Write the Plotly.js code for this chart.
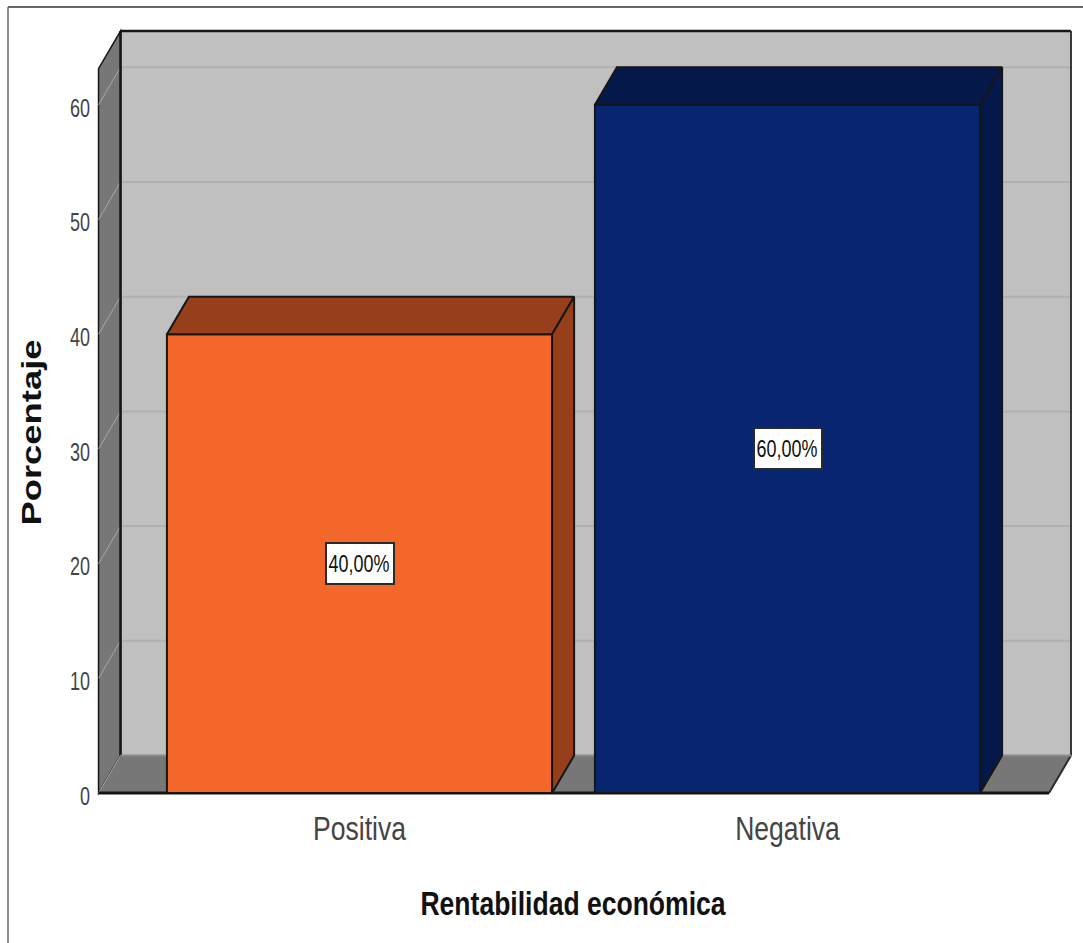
<!DOCTYPE html>
<html>
<head>
<meta charset="utf-8">
<script src="https://cdn.plot.ly/plotly-3.0.1.min.js"></script>
<style>html,body{margin:0;padding:0;background:#fff}</style>
</head>
<body>
<div id="chart" style="width:1083px;height:943px"></div>
<script>
// Share of firms by economic return, drawn as extruded columns
const categories = ['Positiva', 'Negativa'];
const percentages = [40, 60];
const faceColors = ['#f4672a', '#08266f'];
const shadeColors = ['#973f1a', '#05184a'];
const yTicks = [0, 10, 20, 30, 40, 50, 60];

// Room extents and the depth of the extrusion, in axis units
const xLeft = -0.6098, xRight = 1.6624, yTop = 66.43;
const xDepth = 0.0514, yDepth = 3.27;
const barWidth = 0.9;

const W = 1083, H = 943;
const polygon = pts => 'M' + pts.map(p => p.join(',')).join('L') + 'Z';
const edge = '#161616';
const sans = '"Liberation Sans", Arial, sans-serif';

const shapes = [
  // page frame
  {type: 'line', xref: 'paper', yref: 'paper', x0: 8 / W, x1: 1, y0: 1 - 7 / H, y1: 1 - 7 / H, line: {color: '#333', width: 1.5}},
  {type: 'line', xref: 'paper', yref: 'paper', x0: 8 / W, x1: 8 / W, y0: 0, y1: 1 - 7 / H, line: {color: '#666', width: 1.5}},
  // back wall
  {type: 'path', xref: 'x', yref: 'y', layer: 'below', fillcolor: '#c0c0c0', line: {width: 0},
   path: polygon([[xLeft + xDepth, yDepth], [xRight, yDepth], [xRight, yTop], [xLeft + xDepth, yTop]])},
  // side wall
  {type: 'path', xref: 'x', yref: 'y', layer: 'below', fillcolor: '#777777', line: {color: edge, width: 1.5},
   path: polygon([[xLeft, 0], [xLeft + xDepth, yDepth], [xLeft + xDepth, yTop], [xLeft, yTop - yDepth]])},
  // floor
  {type: 'path', xref: 'x', yref: 'y', layer: 'below', fillcolor: '#777777', line: {width: 0},
   path: polygon([[xLeft, 0], [xRight - xDepth, 0], [xRight, yDepth], [xLeft + xDepth, yDepth]])}
];

// Grid lines wrap from the side wall on to the back wall
yTicks.forEach(t => {
  if (t > 0) {
    shapes.push({type: 'line', xref: 'x', yref: 'y', layer: 'below', x0: xLeft + xDepth, x1: xRight,
      y0: t + yDepth, y1: t + yDepth, line: {color: '#b0b0b0', width: 2}});
  }
  shapes.push({type: 'line', xref: 'x', yref: 'y', layer: 'below', x0: xLeft, x1: xLeft + xDepth,
    y0: t, y1: t + yDepth, line: {color: '#a8a8a8', width: 1}});
});

// Outer edges of the room
[
  [xLeft + xDepth, yTop, xRight, yTop, edge, 2.5],
  [xLeft + xDepth, yDepth, xLeft + xDepth, yTop, edge, 2.5],
  [xRight, yDepth, xRight, yTop, '#3a3a3a', 2],
  [xRight - xDepth, 0, xRight, yDepth, '#2a2a2a', 2],
  [xLeft + xDepth, yDepth, xRight, yDepth, '#8c8c8c', 2],
  [xLeft, 0, xRight - xDepth, 0, edge, 3]
].forEach(([x0, y0, x1, y1, color, width]) => {
  shapes.push({type: 'line', xref: 'x', yref: 'y', layer: 'below', x0, y0, x1, y1, line: {color, width}});
});

const traces = [{
  type: 'bar', x: categories.map((_, i) => i), y: percentages, width: barWidth,
  marker: {color: faceColors, line: {color: edge, width: 2}},
  cliponaxis: false, hoverinfo: 'skip'
}];

// Top and side faces of each column, derived from its value
percentages.forEach((v, i) => {
  const l = i - barWidth / 2, r = i + barWidth / 2;
  const faces = [
    [[l, v], [r, v], [r + xDepth, v + yDepth], [l + xDepth, v + yDepth], [l, v]],
    [[r, 0], [r + xDepth, yDepth], [r + xDepth, v + yDepth], [r, v], [r, 0]]
  ];
  faces.forEach(f => traces.push({
    type: 'scatter', mode: 'lines', x: f.map(p => p[0]), y: f.map(p => p[1]),
    fill: 'toself', fillcolor: shadeColors[i], line: {color: edge, width: 2},
    cliponaxis: false, hoverinfo: 'skip'
  }));
});

const annotations = percentages.map((v, i) => ({
  x: i, y: v / 2, xref: 'x', yref: 'y', showarrow: false,
  text: v.toFixed(2).replace('.', ',') + '%',
  font: {family: sans, size: 23, color: '#111'},
  bgcolor: '#ffffff', bordercolor: '#2a2a2a', borderwidth: 2,
  width: 66, height: 39, align: 'center', valign: 'middle', borderpad: 0
}));

const layout = {
  width: W, height: H, showlegend: false,
  margin: {l: 0, r: 0, t: 0, b: 0},
  paper_bgcolor: '#ffffff', plot_bgcolor: 'rgba(0,0,0,0)',
  shapes, annotations,
  xaxis: {
    domain: [96 / W, 1074 / W], range: [-0.6157, 1.6694],
    tickmode: 'array', tickvals: categories.map((_, i) => i), ticktext: categories,
    ticks: '', showgrid: false, zeroline: false, showline: false, ticklabelstandoff: 8,
    tickfont: {family: sans, size: 34, color: '#444'},
    title: {text: 'Rentabilidad económica', standoff: 45,
      font: {family: sans, size: 34, color: '#111', weight: 'bold'}}
  },
  yaxis: {
    domain: [(H - 797) / H, (H - 28) / H], range: [-0.349, 66.7],
    tickmode: 'array', tickvals: yTicks,
    ticks: '', showgrid: false, zeroline: false, showline: false, ticklabelstandoff: 5, ticklabelshift: 3,
    tickfont: {family: sans, size: 25, color: '#444'},
    title: {text: 'Porcentaje', standoff: 12,
      font: {family: sans, size: 28, color: '#111', weight: 'bold'}}
  }
};

// Horizontal squeeze or stretch of the chart's lettering
function fit(node, scale, dx) {
  node.setAttribute('textLength', node.getComputedTextLength() * scale);
  node.setAttribute('lengthAdjust', 'spacingAndGlyphs');
  if (dx) node.setAttribute('dx', dx);
}

Plotly.newPlot('chart', traces, layout, {displayModeBar: false, staticPlot: true}).then(gd => {
  gd.querySelectorAll('.xtick text').forEach(n => fit(n, 0.78));
  gd.querySelectorAll('.ytick text').forEach(n => fit(n, 0.72));
  gd.querySelectorAll('.annotation-text').forEach(n => fit(n, 0.78, -1));
  fit(gd.querySelector('.xtitle'), 0.78, -12);
  fit(gd.querySelector('.ytitle'), 1.3, -20);
});
</script>
</body>
</html>
